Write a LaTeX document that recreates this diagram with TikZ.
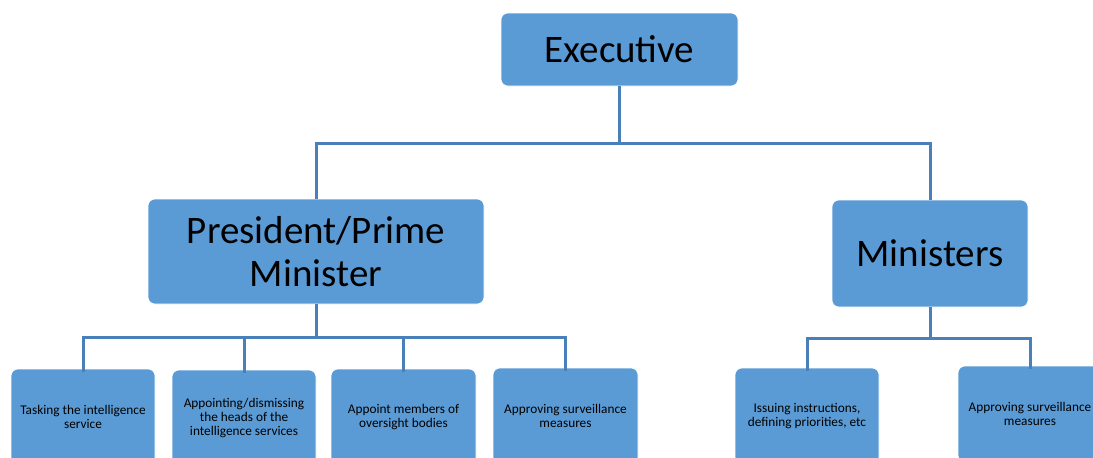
\documentclass[tikz,border=0pt]{standalone}
\usepackage{fontspec}
\setmainfont{Carlito}
\begin{document}
\begin{tikzpicture}[x=1pt,y=-1pt,
  box/.style={fill=boxblue, draw=white, line width=0.6pt, rounded corners=7pt, inner sep=0pt, align=center, text=black},
  big/.style={box, font=\fontsize{39}{42.6}\selectfont},
  small/.style={box, font=\fontsize{13.3}{14.2}\selectfont},
  conn/.style={draw=lineblue, line width=3pt}]
\definecolor{boxblue}{HTML}{5B9BD5}
\definecolor{lineblue}{HTML}{4A80BA}
\useasboundingbox (0,0) rectangle (1093,458);
% top
\node[big, minimum width=237pt, minimum height=73pt] (exec) at (619.5,49.5) {Executive};
\node[big, minimum width=336pt, minimum height=105pt] (pm) at (316,251.5) {President/Prime\\Minister};
\node[big, minimum width=196pt, minimum height=107pt] (min) at (930,253.5) {Ministers};
% bottom row
\node[small, minimum width=144pt, minimum height=96pt] (b1) at (83,417) {Tasking the intelligence\\service};
\node[small, minimum width=144pt, minimum height=96pt] (b2) at (244,418) {Appointing/dismissing\\the heads of the\\intelligence services};
\node[small, minimum width=145pt, minimum height=96pt] (b3) at (403.5,417) {Appoint members of\\oversight bodies};
\node[small, minimum width=145pt, minimum height=96pt] (b4) at (565.5,416) {Approving surveillance\\measures};
\node[small, minimum width=144pt, minimum height=96pt] (b5) at (807,416) {Issuing instructions,\\defining priorities, etc};
\node[small, minimum width=144pt, minimum height=96pt] (b6) at (1030,414) {Approving surveillance\\measures};
% junction coordinates
\coordinate (j0) at (619.5,143);
\coordinate (j1) at (316,337.5);
\coordinate (j2) at (930,338);
% connectors
\draw[conn] (exec.south) -- (j0);
\draw[conn] (pm.north) |- (j0) -| (min.north);
\draw[conn] (pm.south) -- (j1);
\draw[conn] ([yshift=-3pt]b1.north) |- (j1) -| ([yshift=-3pt]b4.north);
\draw[conn] ([yshift=-3pt]b2.north) -- (b2.north |- j1);
\draw[conn] ([yshift=-3pt]b3.north) -- (b3.north |- j1);
\draw[conn] (min.south) -- (j2);
\draw[conn] ([yshift=-3pt]b5.north) |- (j2) -| ([yshift=-3pt]b6.north);
\end{tikzpicture}
\end{document}
